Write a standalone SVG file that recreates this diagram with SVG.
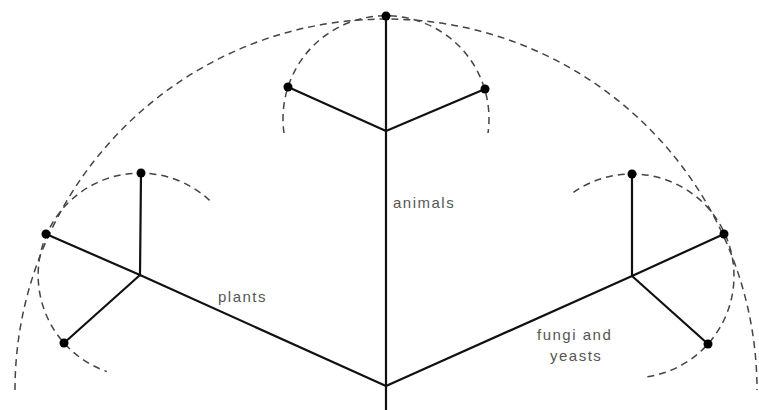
<svg xmlns="http://www.w3.org/2000/svg" width="759" height="410" viewBox="0 0 759 410">
  <style>
    .arc { fill: none; stroke: #444; stroke-width: 1.5; stroke-dasharray: 7 5; }
    .edge { fill: none; stroke: #111; stroke-width: 2.2; stroke-linecap: round; }
    .dot { fill: #000; }
    .lbl { font-family: "Liberation Sans", Arial, sans-serif; font-size: 15px; fill: #555; letter-spacing: 1.5px; }
  </style>
  <rect width="759" height="410" fill="#fff"/>
  <g id="arcs">
    <path class="arc" d="M 15 390 A 371 371 0 0 1 757 390"/>
    <path class="arc" d="M 284 133 A 103 103 0 1 1 488 133"/>
    <path class="arc" d="M 209.6 200.4 A 102 102 0 1 0 106.8 371.5"/>
    <path class="arc" d="M 573.5 192.4 A 102 102 0 1 1 642.7 377.4"/>
  </g>
  <g id="connectors">
    <line class="edge" x1="386" y1="410" x2="386" y2="16"/>
    <line class="edge" x1="386" y1="131" x2="288" y2="87"/>
    <line class="edge" x1="386" y1="131" x2="485" y2="89"/>
    <line class="edge" x1="386" y1="386" x2="140" y2="275"/>
    <line class="edge" x1="140" y1="275" x2="46" y2="234"/>
    <line class="edge" x1="140" y1="275" x2="141" y2="173"/>
    <line class="edge" x1="140" y1="275" x2="64" y2="343"/>
    <line class="edge" x1="386" y1="386" x2="632" y2="276"/>
    <line class="edge" x1="632" y1="276" x2="724" y2="234"/>
    <line class="edge" x1="632" y1="276" x2="632" y2="174"/>
    <line class="edge" x1="632" y1="276" x2="708" y2="344"/>
  </g>
  <g id="node-top"><circle class="dot" cx="386" cy="16" r="4.5"/></g>
  <g id="node-animal-left"><circle class="dot" cx="288" cy="87" r="4.5"/></g>
  <g id="node-animal-right"><circle class="dot" cx="485" cy="89" r="4.5"/></g>
  <g id="node-plant-left"><circle class="dot" cx="46" cy="234" r="4.5"/></g>
  <g id="node-plant-top"><circle class="dot" cx="141" cy="173" r="4.5"/></g>
  <g id="node-plant-bottom"><circle class="dot" cx="64" cy="343" r="4.5"/></g>
  <g id="node-fungi-right"><circle class="dot" cx="724" cy="234" r="4.5"/></g>
  <g id="node-fungi-top"><circle class="dot" cx="632" cy="174" r="4.5"/></g>
  <g id="node-fungi-bottom"><circle class="dot" cx="708" cy="344" r="4.5"/></g>
  <g id="label-animals"><text class="lbl" x="393" y="208">animals</text></g>
  <g id="label-plants"><text class="lbl" x="218" y="302">plants</text></g>
  <g id="label-fungi">
    <text class="lbl" x="537" y="340">fungi and</text>
    <text class="lbl" x="550" y="361">yeasts</text>
  </g>
</svg>
